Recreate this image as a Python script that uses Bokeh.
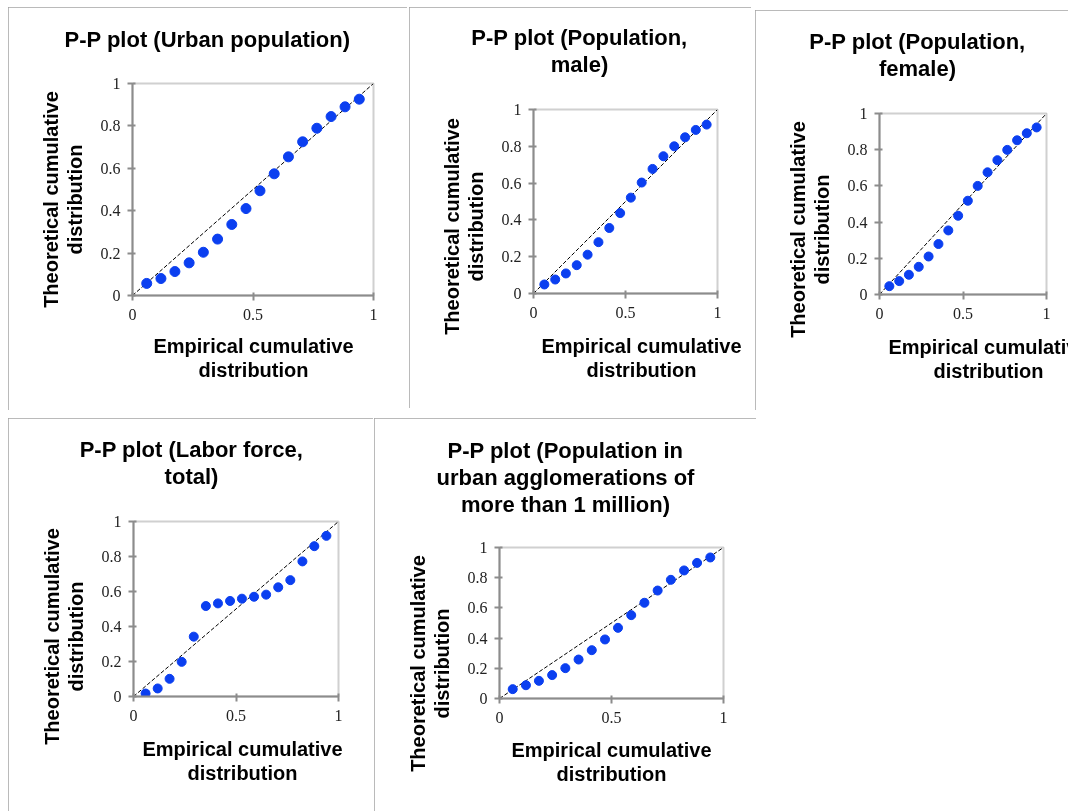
from bokeh.plotting import figure
from bokeh.models import Range1d, FixedTicker, Title, LinearAxis
from bokeh.embed import file_html
from bokeh.resources import INLINE

# ---- data ----
empirical = [0.059, 0.118, 0.176, 0.235, 0.294, 0.353, 0.412, 0.471,
             0.529, 0.588, 0.647, 0.706, 0.765, 0.824, 0.882, 0.941]

urban_population = [0.057, 0.080, 0.113, 0.154, 0.204, 0.266, 0.335, 0.410,
                    0.494, 0.574, 0.654, 0.725, 0.789, 0.844, 0.890, 0.926]
population_male = [0.049, 0.076, 0.109, 0.154, 0.211, 0.279, 0.356, 0.437,
                   0.521, 0.603, 0.677, 0.746, 0.800, 0.849, 0.889, 0.918]
population_female = [0.046, 0.074, 0.109, 0.153, 0.210, 0.279, 0.354, 0.435,
                     0.518, 0.600, 0.675, 0.742, 0.799, 0.852, 0.891, 0.923]
labor_force = [0.017, 0.046, 0.101, 0.198, 0.342, 0.517, 0.532, 0.546,
               0.559, 0.570, 0.582, 0.624, 0.665, 0.772, 0.859, 0.918]
urban_agglomerations = [0.062, 0.088, 0.117, 0.155, 0.201, 0.258, 0.320, 0.391,
                        0.468, 0.552, 0.634, 0.715, 0.786, 0.848, 0.898, 0.934]

diag_x = [0, 1]
diag_y = [0, 1]

x_ticks = [0, 0.5, 1]
x_tick_labels = ["0", "0.5", "1"]
y_ticks = [0, 0.2, 0.4, 0.6, 0.8, 1]
y_tick_labels = ["0", "0.2", "0.4", "0.6", "0.8", "1"]

titles = [
    ["P-P plot (Urban population)"],
    ["P-P plot (Population,", "male)"],
    ["P-P plot (Population,", "female)"],
    ["P-P plot (Labor force,", "total)"],
    ["P-P plot (Population in", "urban agglomerations of", "more than 1 million)"],
]
x_title = ["Empirical cumulative", "distribution"]
y_title = ["Theoretical cumulative", "distribution"]

series = [urban_population, population_male, population_female,
          labor_force, urban_agglomerations]

# ---- layout (page pixels): panel box, plot frame, text centres, gaps ----
specs = [
    dict(box=(8, 7, 407, 410), frame=(132, 83, 373, 295),
         tcx=207, tgap=32, xcx=253, xgap=10, ycy=199, ygap=12, ms=10),
    dict(box=(409, 7, 751, 408), frame=(533, 109, 717, 293),
         tcx=579, tgap=33, xcx=641, xgap=12, ycy=226, ygap=12, ms=9),
    dict(box=(755, 10, 1090, 410), frame=(879, 113, 1046, 294),
         tcx=917, tgap=33, xcx=988, xgap=12, ycy=229, ygap=12, ms=9),
    dict(box=(8, 418, 373, 830), frame=(133, 521, 338, 696),
         tcx=191, tgap=33, xcx=242, xgap=12, ycy=636, ygap=12, ms=9),
    dict(box=(374, 418, 756, 830), frame=(499, 547, 723, 698),
         tcx=565, tgap=31, xcx=611, xgap=11, ycy=663, ygap=12, ms=9),
]

BOLD_FONT = "Liberation Sans"
TICK_FONT = "Liberation Serif"
AXIS_GRAY = "#8c8c8c"
TITLE_PX = 22
AXIS_TITLE_PX = 20

# Arial/Liberation Sans Bold advance widths (1/1000 em), for centring text lines
_W = {" ": 278, "(": 333, ")": 333, ",": 278, "-": 333, "1": 556,
      "P": 667, "U": 722, "L": 611, "E": 667, "T": 611,
      "a": 556, "b": 611, "c": 556, "d": 611, "e": 556, "f": 333, "g": 611,
      "h": 611, "i": 278, "l": 278, "m": 889, "n": 611, "o": 611, "p": 611,
      "r": 389, "s": 556, "t": 333, "u": 611, "v": 556}


def text_w(s, px):
    return sum(_W.get(c, 556) for c in s) / 1000.0 * px


def make_panel(i):
    s = specs[i]
    bx0, by0, bx1, by1 = s["box"]
    fx0, fy0, fx1, fy1 = s["frame"]
    w, h = bx1 - bx0, by1 - by0
    l, t, r, b = fx0 - bx0, fy0 - by0, bx1 - fx1, by1 - fy1

    p = figure(width=w, height=h, output_backend="svg", title=None,
               toolbar_location=None, x_range=Range1d(0, 1), y_range=Range1d(0, 1),
               min_border_left=l, min_border_right=r,
               min_border_top=t, min_border_bottom=b,
               styles={"position": "fixed", "left": f"{bx0}px", "top": f"{by0}px",
                       "outline": "2px solid #a3a3a3", "outline-offset": "-2px"})
    p.background_fill_color = "white"
    p.border_fill_color = "white"
    p.outline_line_color = "#d0d0d0"
    p.outline_line_width = 2
    p.grid.visible = False

    for ax, ticks, labels in ((p.xaxis, x_ticks, x_tick_labels),
                              (p.yaxis, y_ticks, y_tick_labels)):
        ax.ticker = FixedTicker(ticks=ticks)
        ax.major_label_overrides = {tk: lab for tk, lab in zip(ticks, labels)}
        ax.axis_line_color = AXIS_GRAY
        ax.axis_line_width = 2
        ax.major_tick_line_color = AXIS_GRAY
        ax.major_tick_line_width = 2
        ax.major_tick_in = 3
        ax.major_tick_out = 5
        ax.minor_tick_line_color = None
        ax.major_label_text_font = TICK_FONT
        ax.major_label_text_font_size = "16px"
        ax.major_label_text_color = "#222222"
    p.xaxis.major_label_standoff = 8
    p.yaxis.major_label_standoff = 7

    p.line(diag_x, diag_y, line_color="black", line_width=1, line_dash="4 2")
    p.scatter(empirical, series[i], size=s["ms"], fill_color="#0b3ff0",
              line_color="#0b3ff0")

    def add_title(text, side, offset, px):
        p.add_layout(Title(text=text, align="left", offset=offset, standoff=0,
                           text_font=BOLD_FONT, text_font_style="bold",
                           text_font_size=f"{px}px", text_color="black"), side)

    def add_gap(side, gap):
        # blank axis (one white tick, no label, no line) that only reserves
        # `gap` pixels between the frame/axis and the text lines
        sp = LinearAxis(ticker=FixedTicker(ticks=[0]), axis_line_color=None,
                        major_tick_line_color="white", major_tick_line_width=1,
                        minor_tick_line_color=None,
                        major_tick_in=0, major_tick_out=gap,
                        major_label_standoff=0, major_label_overrides={0: ""},
                        major_label_text_alpha=0, axis_label=None)
        p.add_layout(sp, side)

    # chart title: gap next to the frame, then lines from the innermost outwards
    add_gap("above", s["tgap"])
    for line in reversed(titles[i]):
        add_title(line, "above", (s["tcx"] - bx0) - text_w(line, TITLE_PX) / 2 - l,
                  TITLE_PX)

    # x axis title (below the axis)
    add_gap("below", s["xgap"])
    for line in x_title:
        add_title(line, "below", (s["xcx"] - bx0) - text_w(line, AXIS_TITLE_PX) / 2 - l,
                  AXIS_TITLE_PX)

    # y axis title (rotated; inner line first)
    add_gap("left", s["ygap"])
    frame_bottom = h - b
    for line in reversed(y_title):
        off = frame_bottom - ((s["ycy"] - by0) + text_w(line, AXIS_TITLE_PX) / 2)
        add_title(line, "left", off, AXIS_TITLE_PX)
    return p


panels = [make_panel(i) for i in range(5)]

open("out.html", "w").write(file_html(panels, INLINE))
